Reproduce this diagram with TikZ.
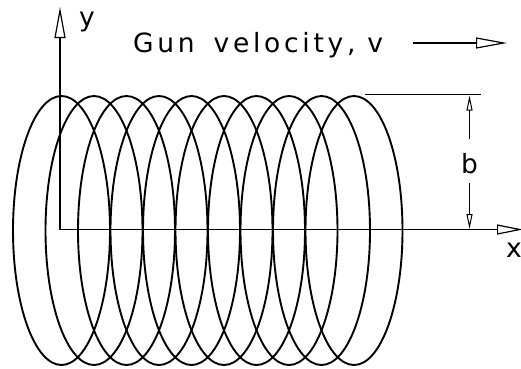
\documentclass[tikz,border=0pt]{standalone}
\usepackage{fontspec}
\setmainfont{DejaVu Sans}
\usetikzlibrary{arrows.meta}
\begin{document}
\begin{tikzpicture}[x=1pt,y=-1pt,
  coil/.style={line width=1.9pt,black},
  axis/.style={line width=1.4pt,black},
  dimline/.style={line width=1.2pt,black},
  bigtip/.style={-{Triangle[open,length=31pt,width=11pt,line width=1.2pt]}},
  smalltip/.style={-{Triangle[open,length=15pt,width=6pt,line width=1pt]}},
  lbl/.style={inner sep=0pt,font=\fontsize{26.5}{26.5}\selectfont}]
\useasboundingbox (0,0) rectangle (521,368);
% coils
\foreach \k in {0,...,9}{
  \draw[coil] ({61.5+32.5*\k},230.5) ellipse [x radius=48.5, y radius=134.5];
}
% axes
\coordinate (O) at (60,229.5);
\coordinate (ytip) at (60,7);
\coordinate (xtip) at (523,229.5);
\draw[axis,bigtip] (O) -- (ytip);
\draw[axis,-{Triangle[open,length=26pt,width=10pt,line width=1.2pt]}] (O) -- (xtip);
\node[lbl,anchor=base] (ylab) at (87,26) {y};
\node[lbl,anchor=base] (xlab) at (514,257) {x};
% velocity
\node[lbl,anchor=base west] (vel) at (133,52) {\addfontfeature{LetterSpace=14}Gun\hspace{19pt}velocity,\hspace{12pt}v};
\coordinate (va) at (413,43);
\coordinate (vb) at (507,43);
\draw[dimline,bigtip] (va) -- (vb);
% dimension b
\coordinate (ht0) at (365,94.5);
\coordinate (ht1) at (481,94.5);
\draw[dimline] (ht0) -- (ht1);
\node[lbl,anchor=base] (blab) at (469.5,173) {b};
\coordinate (bt) at (469.5,95.5);
\coordinate (bu) at (469.5,139);
\coordinate (bl) at (469.5,183);
\coordinate (bb) at (469.5,229);
\draw[dimline,smalltip] (bu) -- (bt);
\draw[dimline,smalltip] (bl) -- (bb);
\end{tikzpicture}
\end{document}
